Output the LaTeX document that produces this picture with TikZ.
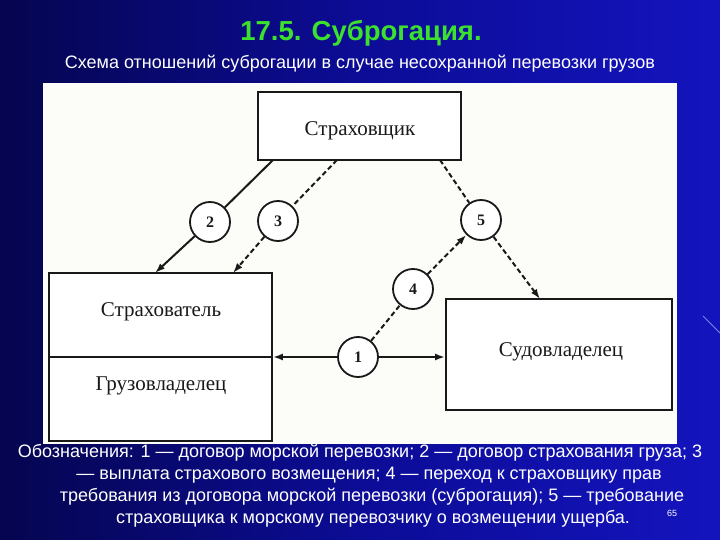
\documentclass[tikz,border=0pt]{standalone}
\usepackage{fontspec}
\setmainfont{Liberation Serif}
\setsansfont{Liberation Sans}
\newfontfamily\arialf{Liberation Sans}
\usetikzlibrary{arrows.meta}
\definecolor{titlegreen}{RGB}{60,225,45}
\definecolor{bgdark}{RGB}{5,5,80}
\definecolor{bgmid}{RGB}{12,12,150}
\definecolor{bgbright}{RGB}{20,20,190}
\definecolor{paper}{RGB}{252,252,248}
\definecolor{ink}{RGB}{25,25,25}
\begin{document}
\begin{tikzpicture}[x=1pt,y=-1pt,
  box/.style={draw=ink,line width=1.8pt,fill=white,inner sep=0pt},
  lbl/.style={font=\fontsize{21}{23}\selectfont,text=ink},
  num/.style={draw=ink,circle,line width=1.8pt,minimum size=40pt,inner sep=0pt,fill=white,font=\fontsize{16}{18}\selectfont\bfseries,text=ink},
  solidln/.style={draw=ink,line width=2pt},
  dashln/.style={draw=ink,line width=2pt,dash pattern=on 5pt off 3pt},
  arr/.style={-{Latex[length=10pt,width=7pt]}},
  capt/.style={font=\arialf\fontsize{18}{22}\selectfont,text=white}
]
\useasboundingbox (0,0) rectangle (720,540);
% background
\shade[left color=bgdark,right color=bgbright,middle color=bgmid] (0,0) rectangle (720,540);
\draw[white!70!blue,line width=0.8pt,opacity=0.7] (703,316) -- (720,333);
% title
\node[font=\arialf\bfseries\fontsize{27.5}{29}\selectfont,text=titlegreen] (title) at (361,33) {17.5. Суброгация.};
\node[font=\arialf\fontsize{18}{20}\selectfont,text=white] (sub) at (360,64) {Схема отношений суброгации в случае несохранной перевозки грузов};
% scanned picture area
\fill[paper] (43,83) rectangle (677,444);
% boxes
\node[box,minimum width=203pt,minimum height=68pt] (ins) at (359.5,126) {};
\node[lbl] (insl) at (360,131) {Страховщик};
\node[box,minimum width=223pt,minimum height=168pt] (lb) at (160.5,357) {};
\draw[ink,line width=1.8pt] (lb.west) -- (lb.east);
\node[lbl] (lbt) at (161,312) {Страхователь};
\node[lbl] (lbb) at (161,386) {Грузовладелец};
\node[box,minimum width=226pt,minimum height=111pt] (ship) at (559,354.5) {};
\node[lbl] (shipl) at (561,352) {Судовладелец};
% anchor coordinates
\coordinate (a2) at (273,160);
\coordinate (b2) at (155,273);
\coordinate (a3) at (337,160);
\coordinate (b3) at (233,273);
\coordinate (a5) at (440,160);
\coordinate (b5) at (540,299);
% circles
\node[num] (c2) at (210,222) {2};
\node[num] (c3) at (278,221) {3};
\node[num] (c5) at (481,220) {5};
\node[num] (c4) at (413,289) {4};
\node[num] (c1) at (358,357) {1};
% connectors
\draw[solidln] (a2) -- (c2);
\draw[solidln,arr] (c2) -- (b2);
\draw[dashln] (a3) -- (c3);
\draw[dashln,arr] (c3) -- (b3);
\draw[dashln] (a5) -- (c5);
\draw[dashln,arr] (c5) -- (b5);
\draw[dashln] (c1) -- (c4);
\draw[dashln,arr] (c4) -- (c5);
\draw[solidln,arr] (c1) -- (lb.east);
\draw[solidln,arr] (c1) -- (ship.west |- c1);
% caption
\node[capt] (cap1) at (360,453) {Обозначения: 1 — договор морской перевозки; 2 — договор страхования груза; 3};
\node[capt] (cap2) at (369,475) {— выплата страхового возмещения; 4 — переход к страховщику прав};
\node[capt] (cap3) at (372,497) {требования из договора морской перевозки (суброгация); 5 — требование};
\node[capt] (cap4) at (373,519) {страховщика к морскому перевозчику о возмещении ущерба.};
\node[font=\arialf\fontsize{9}{10}\selectfont,text=white] (pg) at (672,513) {65};
\end{tikzpicture}
\end{document}
